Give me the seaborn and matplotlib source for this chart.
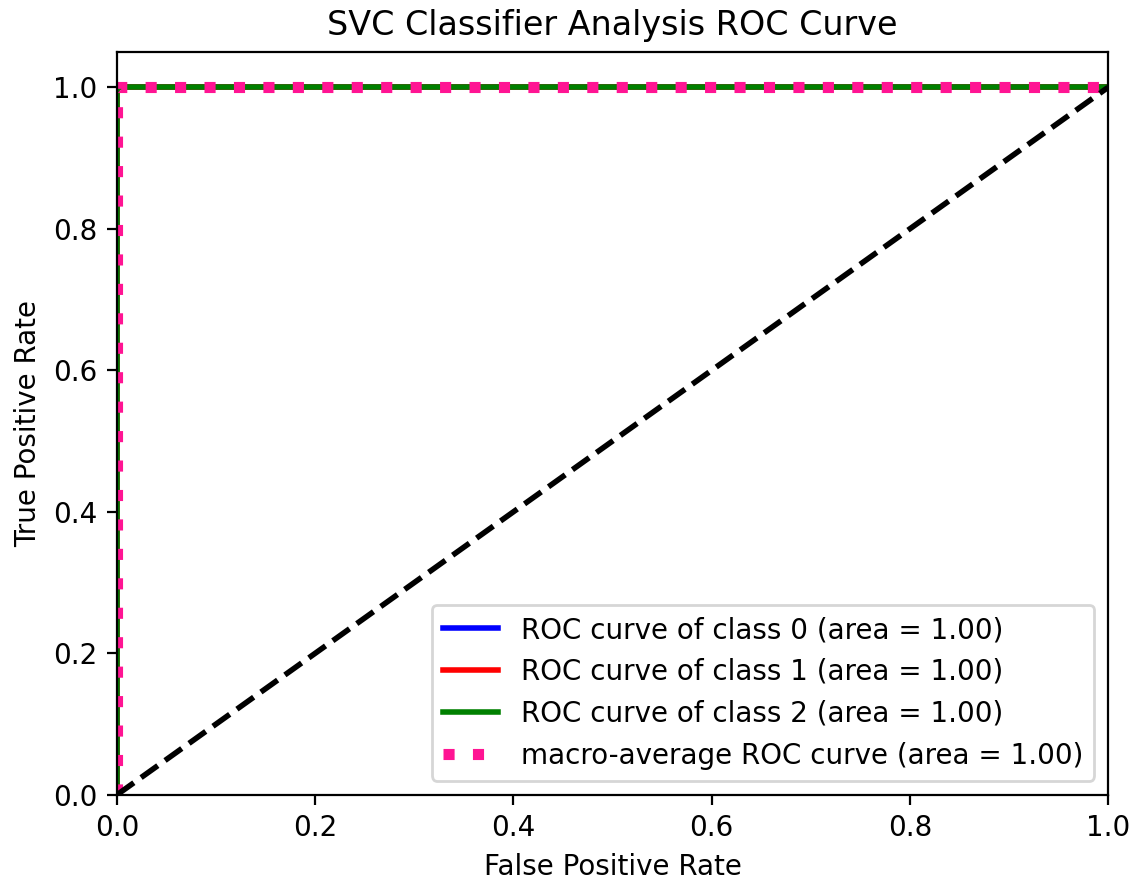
import matplotlib
matplotlib.use("Agg")
import matplotlib.pyplot as plt
import seaborn as sns
import pandas as pd

# ROC curve points (all classes perfect)
classes = [0, 1, 2]
class_colors = ["blue", "red", "green"]
class_auc = [1.00, 1.00, 1.00]
fpr_class = [[0.0, 0.0, 1.0], [0.0, 0.0, 1.0], [0.0, 0.0, 1.0]]
tpr_class = [[0.0, 1.0, 1.0], [0.0, 1.0, 1.0], [0.0, 1.0, 1.0]]

macro_fpr = [0.0, 0.0, 1.0]
macro_tpr = [0.0, 1.0, 1.0]
macro_auc = 1.00

chance_x = [0.0, 1.0]
chance_y = [0.0, 1.0]

dpi = 200
fig = plt.figure(figsize=(1137 / dpi, 882 / dpi), dpi=dpi)
ax = fig.add_axes([0.103, 0.099, 0.8715, 0.842])

for c, col, auc, fx, ty in zip(classes, class_colors, class_auc, fpr_class, tpr_class):
    df = pd.DataFrame({"fpr": fx, "tpr": ty})
    sns.lineplot(data=df, x="fpr", y="tpr", estimator=None, sort=False, color=col, lw=2,
                 label=f"ROC curve of class {c} (area = {auc:.2f})", ax=ax)

df_macro = pd.DataFrame({"fpr": macro_fpr, "tpr": macro_tpr})
sns.lineplot(data=df_macro, x="fpr", y="tpr", estimator=None, sort=False, color="deeppink",
             linestyle=":", linewidth=4,
             label=f"macro-average ROC curve (area = {macro_auc:.2f})", ax=ax)

ax.plot(chance_x, chance_y, "k--", lw=2)

ax.set_xlim(0.0, 1.0)
ax.set_ylim(0.0, 1.05)
ax.set_xlabel("False Positive Rate")
ax.set_ylabel("True Positive Rate")
ax.set_title("SVC Classifier Analysis ROC Curve")
ax.legend(loc="lower right")

fig.savefig("out.png", dpi=dpi)
